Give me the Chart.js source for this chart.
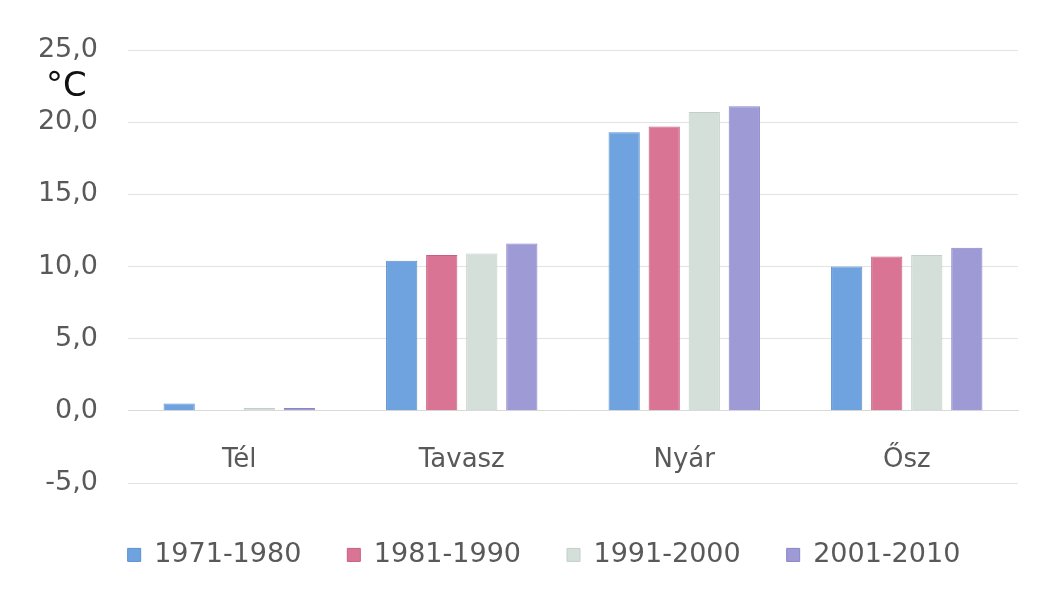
<!DOCTYPE html>
<html>
<head>
<meta charset="utf-8">
<script src="https://cdn.jsdelivr.net/npm/chart.js@4/dist/chart.umd.min.js"></script>
<style>
html,body{margin:0;padding:0;background:#fff;}
#wrap{position:relative;width:1049px;height:604px;}
</style>
</head>
<body>
<div id="wrap"><canvas id="c" width="1049" height="604"></canvas></div>
<script>
const categories = ["Tél", "Tavasz", "Nyár", "Ősz"];
const seriesNames = ["1971-1980", "1981-1990", "1991-2000", "2001-2010"];
const s1971 = [0.5, 10.4, 19.3, 10.0];
const s1981 = [0.0, 10.8, 19.7, 10.7];
const s1991 = [0.2, 10.9, 20.7, 10.8];
const s2001 = [0.2, 11.6, 21.1, 11.3];
const yTicks = [-5, 0, 5, 10, 15, 20, 25];
const unitLabel = "°C";

const fills = ["#6fa3e0", "#da7494", "#d5dfda", "#9d9ad6"];
const borders = ["#5a8fd0", "#c65f80", "#c3cfc9", "#8985c6"];
const values = [s1971, s1981, s1991, s2001];
const FONT = '"DejaVu Sans", sans-serif';

const unitPlugin = {
  id: 'unit',
  afterLayout(chart) {
    const lg = chart.legend;
    if (lg) { lg.left += 25; lg.right += 25; }
  },
  afterDraw(chart) {
    const ctx = chart.ctx;
    ctx.save();
    ctx.fillStyle = '#111';
    ctx.font = '34px ' + FONT;
    ctx.textBaseline = 'alphabetic';
    ctx.fillText(unitLabel, 46, 96);
    ctx.restore();
  }
};

new Chart(document.getElementById('c'), {
  type: 'bar',
  data: {
    labels: categories,
    datasets: seriesNames.map((n, i) => ({
      label: n,
      data: values[i],
      backgroundColor: fills[i],
      borderColor: borders[i],
      borderWidth: 1,
      categoryPercentage: 0.72,
      barPercentage: 0.78
    }))
  },
  options: {
    responsive: false,
    animation: false,
    layout: { padding: { left: 20, right: 31, top: 50, bottom: 25.6 } },
    plugins: {
      legend: {
        position: 'bottom',
        title: { display: true, text: ' ', font: { size: 1 }, padding: 5.6 },
        labels: {
          color: '#595959',
          font: { size: 27, family: FONT },
          boxWidth: 13,
          boxHeight: 13,
          padding: 46
        }
      },
      tooltip: { enabled: false }
    },
    scales: {
      x: {
        position: { y: 0 },
        grid: { display: false, drawTicks: false },
        border: { display: true, color: '#d9d9d9', width: 1 },
        ticks: {
          color: '#595959',
          font: { size: 26, family: FONT },
          padding: 34
        }
      },
      y: {
        min: -5,
        max: 25,
        afterBuildTicks(scale) { scale.ticks = yTicks.map(v => ({ value: v })); },
        afterFit(scale) { scale.width = 108; },
        grid: { color: '#e3e3e3', drawTicks: false, lineWidth: 1 },
        border: { display: false },
        ticks: {
          color: '#595959',
          font: { size: 27, family: FONT },
          padding: 30,
          callback: v => v.toFixed(1).replace('.', ',')
        }
      }
    }
  },
  plugins: [unitPlugin]
});
</script>
</body>
</html>
